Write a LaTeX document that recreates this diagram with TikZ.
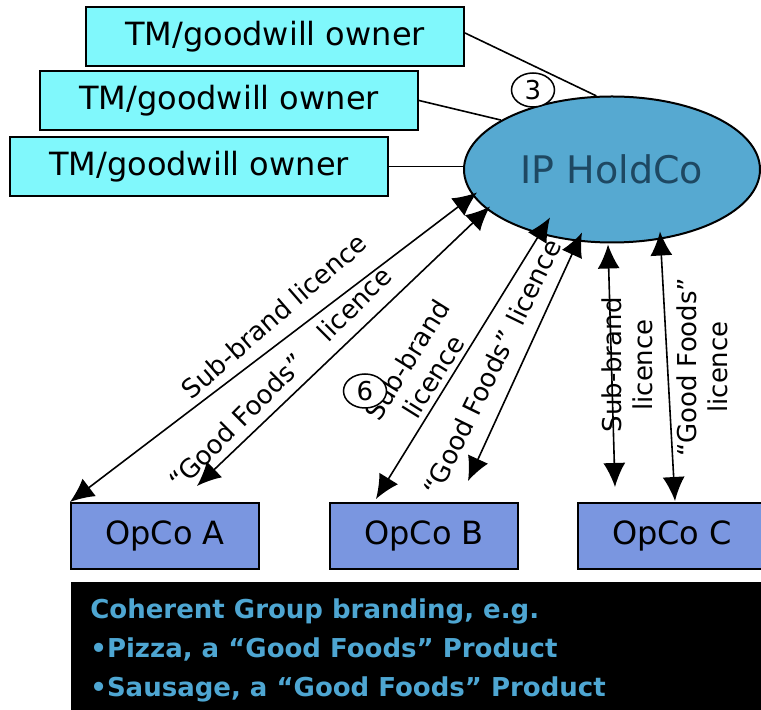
\documentclass[tikz,border=0pt]{standalone}
\usepackage{fontspec}
\setmainfont{DejaVu Sans}
\usetikzlibrary{shapes.geometric,arrows.meta,calc}

\definecolor{tmcyan}{RGB}{128,248,252}
\definecolor{holdblue}{RGB}{86,169,209}
\definecolor{holdtext}{RGB}{30,72,98}
\definecolor{opblue}{RGB}{122,150,224}
\definecolor{brandblue}{RGB}{78,166,210}

\tikzset{fleche/.style={{Latex[length=12,width=11]}-{Latex[length=12,width=11]},line width=0.8pt}}

\begin{document}
\begin{tikzpicture}[x=0.5pt,y=-0.5pt]
\tikzstyle{tm} = [draw,line width=1pt,fill=tmcyan,minimum width=189pt,minimum height=29.5pt,inner sep=0pt,font=\fontsize{16}{19}\selectfont];
\tikzstyle{opco} = [draw,line width=1pt,fill=opblue,minimum width=94pt,minimum height=33pt,inner sep=0pt,font=\fontsize{16}{19}\selectfont];
\tikzstyle{numero} = [draw,ellipse,line width=0.75pt,fill=white,minimum width=21.5pt,minimum height=17pt,inner sep=0pt,font=\fontsize{13}{15}\selectfont];
\tikzstyle{lic} = [align=center,inner sep=0pt,font=\fontsize{13}{15.5}\selectfont];

\useasboundingbox (0,0) rectangle (761,710);
\clip (0,0) rectangle (761,710);

% owners and holding company
\foreach \n/\x/\y in {1/275/36.5,2/229/100.5,3/199/166.5}{
	\node[tm] (tm\n) at (\x,\y) {TM/goodwill owner};
}
\node[draw,ellipse,line width=1pt,fill=holdblue,minimum width=148pt,minimum height=73pt,
	text=holdtext,font=\fontsize{19}{23}\selectfont] (hold) at (612,169.5) {IP HoldCo};

\draw[line width=0.8pt] (tm1.east) ++(0,-3.5) -- (hold.102);
\draw[line width=0.8pt] (tm2.east) -- (hold.156);
\draw[line width=0.8pt] (tm3.east) -- (tm3.east -| hold.west);
\node[numero] (n3) at (533,90) {3};

% operating companies
\node[opco] (opA) at (165,536) {OpCo A};
\node[opco] (opB) at (424,536) {OpCo B};
\node[opco] (opC) at (672,536) {OpCo C};

\draw[fleche] (opA.north west) -- ($(hold.center)+(-135,23)$);
\draw[fleche] ($(opA.north)+(32,-16)$) -- ($(hold.center)+(-122,37)$);
\draw[fleche] ($(opB.north west)+(47,-3)$) -- ($(hold.center)+(-62,48)$);
\draw[fleche] ($(opB.north)+(44,-21)$) -- ($(hold.center)+(-30,63)$);
\draw[fleche] ($(opC.north west)+(38,-15)$) -- ($(hold.center)+(-4,75)$);
\draw[fleche] ($(opC.north)+(3,-1)$) -- ($(hold.center)+(48,62)$);

\node[lic,rotate=41] (la1) at (274,316) {Sub-brand licence};
\node[lic,rotate=45] (la2) at (280,378) {``Good Foods''\hspace{1.2em}licence};
\node[lic,rotate=58] (lb1) at (420,368) {Sub-brand\\licence};
\node[lic,rotate=64] (lb2) at (492,367) {``Good Foods''\hspace{0.4em}licence};
\node[lic,rotate=90] (lc1) at (627,365) {Sub-brand\\licence};
\node[lic,rotate=90] (lc2) at (702,367) {``Good Foods''\\licence};
\node[numero] (n6) at (365,391) {6};

% branding box
\fill[black] (71,582) rectangle (766,715);
\node[anchor=north west,align=left,inner sep=0pt,text=brandblue,
	font=\bfseries\fontsize{13}{19.5}\selectfont] (brand) at (90,598)
	{Coherent Group branding, e.g.\\•Pizza, a “Good Foods” Product\\•Sausage, a “Good Foods” Product};

\end{tikzpicture}
\end{document}
